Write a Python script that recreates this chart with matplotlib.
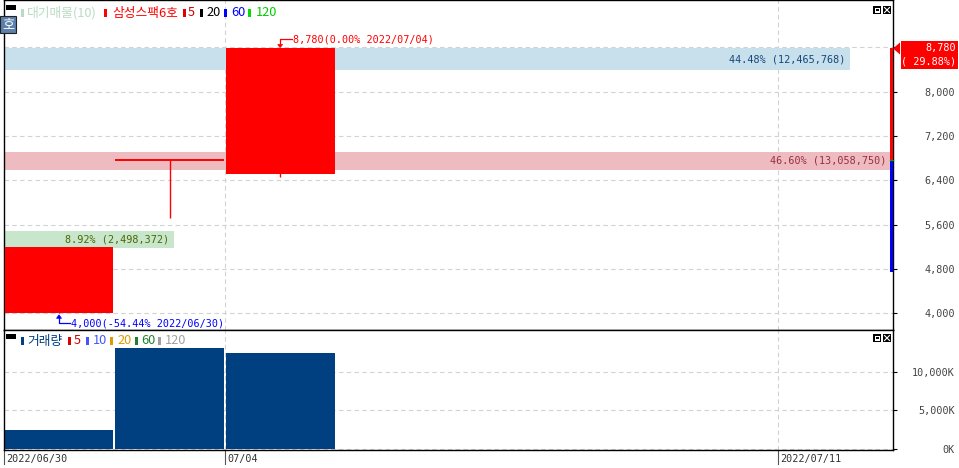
import matplotlib
matplotlib.use('Agg')
import matplotlib.pyplot as plt
from matplotlib.patches import Rectangle, Polygon
from matplotlib.lines import Line2D
import matplotlib.transforms as mtransforms

# ---------------- data ----------------
dates = ['2022/06/30', '2022/07/01', '2022/07/04']
opens = [4000, 6760, 6520]
highs = [5200, 6760, 8780]
lows = [4000, 5720, 6460]
closes = [5200, 6760, 8780]
volumes = [2498372, 13058750, 12465768]

profile_low = [5180, 6590, 8385]
profile_high = [5485, 6910, 8780]
profile_vol = [2498372, 13058750, 12465768]

price_ticks = [4000, 4800, 5600, 6400, 7200, 8000, 8800]
price_tick_labels = ['4,000', '4,800', '5,600', '6,400', '7,200', '8,000', '']
vol_ticks = [0, 5000000, 10000000]
vol_tick_labels = ['0K', '5,000K', '10,000K']
xtick_pos = [0, 2, 7]
xtick_labels = ['2022/06/30', '07/04', '2022/07/11']
range_bar_low = 4740

stock_name = '삼성스팩6호'

# ---------------- style ----------------
W, H = 959, 468
MONO = ['DejaVu Sans Mono']
KR = ['Noto Sans CJK KR', 'DejaVu Sans']
NUM_SIZE = 7.3
KR_SIZE = 9.2
GRID = '#d2d2d2'
RED = '#ff0000'
profile_colors = ['#c8e6cc', '#eebbc0', '#c8e0ec']
profile_text_colors = ['#4d6600', '#963040', '#15467a']

fig = plt.figure(figsize=(W / 100, H / 100), dpi=100)
fig.patch.set_facecolor('white')


def fx(x):
    return x / W


def fy(y):
    return 1 - y / H


def frect(x0, y0, w, h, **kw):
    r = Rectangle((fx(x0), fy(y0 + h)), w / W, h / H, transform=fig.transFigure, **kw)
    fig.add_artist(r)
    return r


def fline(xs, ys, **kw):
    fig.add_artist(Line2D([fx(x) for x in xs], [fy(y) for y in ys], transform=fig.transFigure, **kw))


def fpoly(pts, **kw):
    fig.add_artist(Polygon([(fx(x), fy(y)) for x, y in pts], closed=True, transform=fig.transFigure, **kw))


def ftext(x, y, s, **kw):
    fig.text(fx(x), fy(y), s, **kw)


ax = fig.add_axes([fx(4), fy(330), (893 - 4) / W, 330 / H])
ax2 = fig.add_axes([fx(4), fy(450), (893 - 4) / W, (450 - 330) / H])

XMAX = 8.04
for a in (ax, ax2):
    a.set_xlim(0, XMAX)
    for s in a.spines.values():
        s.set_color('black')
        s.set_linewidth(1)
    a.set_facecolor('white')
ax.set_ylim(3699, 9655)
ax2.set_ylim(-129000, 15395000)

# grid
dash = (0, (4, 3))
for p in price_ticks:
    ax.axhline(p, color=GRID, lw=0.8, ls=dash, zorder=0)
for v in vol_ticks:
    ax2.axhline(v, color=GRID, lw=0.8, ls=dash, zorder=0)
for xp in xtick_pos[1:]:
    ax.axvline(xp, color=GRID, lw=0.8, ls=dash, zorder=0)
    ax2.axvline(xp, color=GRID, lw=0.8, ls=dash, zorder=0)

# price volume profile (대기매물)
total = sum(profile_vol)
scale = 8.013 / max(profile_vol)
for lo, hi, v, c, tc in zip(profile_low, profile_high, profile_vol, profile_colors, profile_text_colors):
    wdt = v * scale
    ax.barh(lo, wdt, height=hi - lo, left=0, align='edge', color=c, zorder=1, linewidth=0)
    ax.annotate(f'{v / total * 100:.2f}% ({v:,})', xy=(wdt, (lo + hi) / 2), xytext=(-4, 0),
                textcoords='offset pixels', ha='right', va='center', color=tc,
                fontsize=NUM_SIZE, family=MONO, zorder=5)

# candles
L, BW = 0.005, 0.985
for i, (o, h, l, c) in enumerate(zip(opens, highs, lows, closes)):
    cx = i + L + BW / 2
    ax.vlines(cx, l, h, color=RED, lw=1, zorder=3)
    if abs(c - o) < 20:
        ax.hlines(c, i + L, i + L + BW, color=RED, lw=1.4, zorder=3)
    else:
        ax.add_patch(Rectangle((i + L, min(o, c)), BW, abs(c - o), facecolor=RED,
                               edgecolor='none', zorder=3))

# volume bars
ax2.bar([i + L for i in range(len(volumes))], volumes, width=BW, align='edge',
        color='#004080', linewidth=0, zorder=2)

# right axis ticks
for a, ticks, labels in ((ax, price_ticks, price_tick_labels), (ax2, vol_ticks, vol_tick_labels)):
    a.yaxis.tick_right()
    a.set_yticks(ticks)
    a.set_yticklabels(labels)
    a.tick_params(axis='y', direction='out', length=2.9, width=0.8, color='black',
                  pad=41.5, labelsize=NUM_SIZE, labelcolor='#444444')
    for t in a.get_yticklabels():
        t.set_horizontalalignment('right')
        t.set_family(MONO)
    a.set_xticks([])

# x tick labels (dates)
trans = mtransforms.blended_transform_factory(ax2.transData, ax2.transAxes)
for xp, lab in zip(xtick_pos, xtick_labels):
    ax2.add_line(Line2D([xp, xp], [0, -0.12], transform=trans, color='#555555', lw=0.8,
                        clip_on=False))
    off = mtransforms.ScaledTranslation(2 / 100, -9 / 100, fig.dpi_scale_trans)
    ax2.text(xp, 0, lab, transform=trans + off, ha='left', va='center', fontsize=NUM_SIZE,
             family=MONO, color='#333333', clip_on=False)

# right colored range bar
btrans = mtransforms.blended_transform_factory(ax.transAxes, ax.transData)
bx0 = 1 - 3 / 889
ax.add_patch(Rectangle((bx0, closes[-2]), 3 / 889, closes[-1] - closes[-2], facecolor=RED,
                       edgecolor='none', transform=btrans, clip_on=False, zorder=6))
ax.add_patch(Rectangle((bx0, range_bar_low), 3 / 889, closes[-2] - range_bar_low, facecolor='#0000ff',
                       edgecolor='none', transform=btrans, clip_on=False, zorder=6))
ax.add_line(Line2D([bx0, 1], [closes[-2], closes[-2]], transform=btrans, color='#00a000', lw=1,
                   clip_on=False, zorder=7))


def to_img(a, x, y):
    X, Y = a.transData.transform((x, y))
    return X, H - Y


# price tag
_, yl = to_img(ax, 0, closes[-1])
frect(901, yl - 7, 57, 28, facecolor=RED, edgecolor='none')
fpoly([(893, yl), (900, yl - 6), (900, yl + 6)], facecolor=RED, edgecolor='none')
chg = (closes[-1] / closes[-2] - 1) * 100
ftext(956, yl - 0.5, f'{closes[-1]:,}', ha='right', va='center', color='white', fontsize=NUM_SIZE, family=MONO)
ftext(956, yl + 13, f'( {chg:.2f}%)', ha='right', va='center', color='white', fontsize=NUM_SIZE, family=MONO)

# max / min annotations
imax = highs.index(max(highs))
imin = lows.index(min(lows))
last = closes[-1]
Xh, Yh = to_img(ax, imax + L + BW / 2, highs[imax])
fline([Xh, Xh, Xh + 12], [Yh - 3, Yh - 9, Yh - 9], color=RED, lw=0.9)
fpoly([(Xh - 2.5, Yh - 4), (Xh + 2.5, Yh - 4), (Xh, Yh - 1)], facecolor=RED, edgecolor=RED, lw=0.5)
ftext(Xh + 13, Yh - 9, f'{highs[imax]:,}({(highs[imax] / last - 1) * 100:.2f}% {dates[imax]})',
      ha='left', va='center', color=RED, fontsize=NUM_SIZE, family=MONO)

Xl, Yl = to_img(ax, imin + L + BW / 2, lows[imin])
BLUE = '#0000ff'
fline([Xl, Xl, Xl + 11], [Yl + 4, Yl + 10, Yl + 10], color=BLUE, lw=0.9)
fpoly([(Xl - 2.5, Yl + 5), (Xl + 2.5, Yl + 5), (Xl, Yl + 1.5)], facecolor=BLUE, edgecolor=BLUE, lw=0.5)
ftext(Xl + 12, Yl + 10, f'{lows[imin]:,}({(lows[imin] / last - 1) * 100:.2f}% {dates[imin]})',
      ha='left', va='center', color=BLUE, fontsize=NUM_SIZE, family=MONO)

# top legend
frect(6, 5, 10, 5, facecolor='black', edgecolor='none')
legend_top = [('대기매물(10)', '#b8dcc2', '#b8dcc2', 21, 27),
              (stock_name, RED, RED, 104, 112),
              ('5', '#e00000', '#cc0000', 183, 188),
              ('20', '#000000', '#000000', 200, 206),
              ('60', '#0000ff', '#0000ff', 224, 231),
              ('120', '#00dd00', '#00cc00', 248, 256)]
for txt, mc, tc, mx, tx in legend_top:
    frect(mx, 9, 3, 8, facecolor=mc, edgecolor='none')
    ftext(tx, 13, txt, ha='left', va='center', color=tc, fontsize=KR_SIZE, family=KR)

frect(0, 16, 16, 17, facecolor='#5b80ac', edgecolor='#222222', lw=0.8)
ftext(8, 24.5, '호', ha='center', va='center', color='white', fontsize=9.5, family=KR)

# volume legend
frect(6, 334, 10, 5, facecolor='black', edgecolor='none')
legend_vol = [('거래량', '#003f80', '#003f80', 21, 27),
              ('5', '#dd0000', '#cc0000', 68, 74),
              ('10', '#4455ff', '#4455ff', 86, 93),
              ('20', '#e09a00', '#e09a00', 110, 117),
              ('60', '#208030', '#208030', 135, 141),
              ('120', '#a0a0a0', '#a0a0a0', 158, 165)]
for txt, mc, tc, mx, tx in legend_vol:
    frect(mx, 337, 3, 8, facecolor=mc, edgecolor='none')
    ftext(tx, 341, txt, ha='left', va='center', color=tc, fontsize=KR_SIZE, family=KR)

# window icons
for yy in (6, 334):
    frect(873, yy, 8, 8, facecolor='black', edgecolor='none')
    frect(874.5, yy + 1.5, 5, 5, facecolor='white', edgecolor='none')
    frect(875.5, yy + 3, 3, 2, facecolor='black', edgecolor='none')
    frect(883, yy, 8, 8, facecolor='black', edgecolor='none')
    fline([884.5, 889.5], [yy + 1.5, yy + 6.5], color='white', lw=0.8)
    fline([884.5, 889.5], [yy + 6.5, yy + 1.5], color='white', lw=0.8)

fig.savefig('out.png', dpi=100, facecolor='white')
